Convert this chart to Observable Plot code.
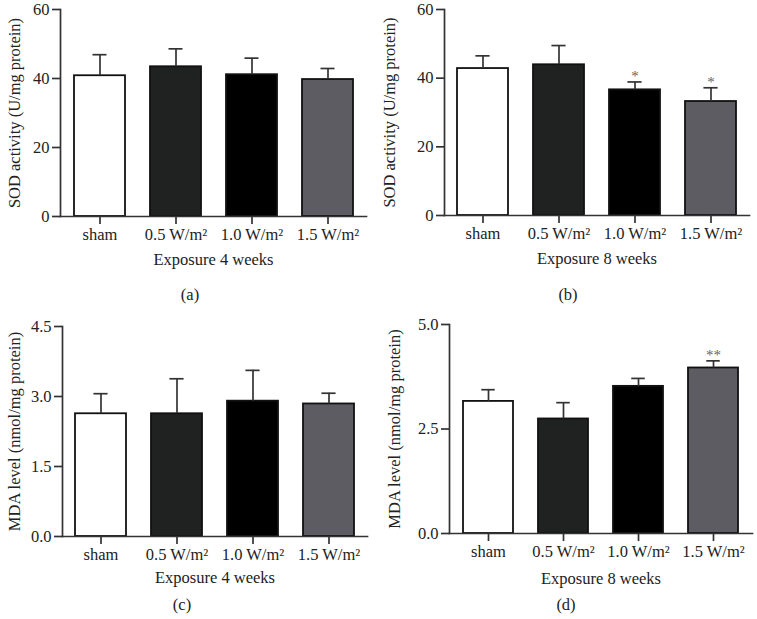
<!DOCTYPE html>
<html><head><meta charset="utf-8">
<script src="https://cdn.jsdelivr.net/npm/d3@7"></script>
<script src="https://cdn.jsdelivr.net/npm/@observablehq/plot@0.6"></script>
<style>
body{margin:0;background:#fff;}
#grid{display:grid;grid-template-columns:378px 379px;grid-template-rows:310px 309px;width:757px;}
.panel{position:relative;overflow:hidden;}
.panel svg{display:block;}
.cap{position:absolute;width:40px;text-align:center;font-family:"Liberation Serif",serif;font-size:16.5px;line-height:20px;color:#222;}
</style></head><body><div id="grid"></div>
<script>
// ---- data ----
const categories = ["sham", "0.5 W/m²", "1.0 W/m²", "1.5 W/m²"];
const sod4Mean = [40.8, 43.4, 41.1, 39.7];
const sod4Sd   = [6.1, 5.2, 4.8, 3.2];
const sod8Mean = [42.8, 43.9, 36.6, 33.2];
const sod8Sd   = [3.7, 5.6, 2.3, 4.0];
const sod8Sig  = ["", "", "*", "*"];
const mda4Mean = [2.63, 2.63, 2.90, 2.84];
const mda4Sd   = [0.43, 0.75, 0.66, 0.23];
const mda8Mean = [3.16, 2.74, 3.52, 3.96];
const mda8Sd   = [0.28, 0.39, 0.19, 0.17];
const mda8Sig  = ["", "", "", "**"];
const sodTicks = [0, 20, 40, 60];
const mda4Ticks = [0, 1.5, 3.0, 4.5];
const mda8Ticks = [0, 2.5, 5.0];
const noSig = ["", "", "", ""];

const barColors = ["#ffffff", "#202221", "#000000", "#5d5c63"];
const FONT = '"Liberation Serif", serif';

function panel(o) {
  const rows = categories.map((c, i) => ({cat: c, mean: o.means[i], top: o.means[i] + o.sds[i], sig: o.sig[i], color: barColors[i]}));
  const step = (o.width - o.ml - o.mr) / 4;
  const bw = step * 2 / 3;
  const capInset = (bw - 14) / 2;
  return Plot.plot({
    width: o.width, height: 280,
    marginLeft: o.ml, marginRight: o.mr, marginTop: o.mt, marginBottom: o.mb,
    style: {fontFamily: FONT, fontSize: "16.5px", background: "white", color: "#222", overflow: "visible"},
    x: {type: "band", domain: categories, paddingInner: 1/3, paddingOuter: 1/6},
    y: {domain: o.yDomain},
    marks: [
      Plot.barY(rows, {x: "cat", y: "mean", fill: "color", stroke: "#111", strokeWidth: 1.8}),
      Plot.ruleX(rows, {x: "cat", y1: "mean", y2: "top", stroke: "#333", strokeWidth: 1.7}),
      Plot.tickY(rows, {x: "cat", y: "top", stroke: "#333", strokeWidth: 1.7, insetLeft: capInset, insetRight: capInset}),
      Plot.text(rows, {x: "cat", y: "top", text: "sig", lineAnchor: "bottom", dy: -1, fontSize: 15, fill: "#666"}),
      Plot.frame({anchor: "left", stroke: "#333", strokeWidth: 1.7}),
      Plot.frame({anchor: "bottom", stroke: "#333", strokeWidth: 1.7}),
      Plot.axisY({ticks: o.yTicks, tickFormat: o.fmt, tickSize: 8, tickPadding: 3, stroke: "#333", strokeWidth: 1.7,
        label: o.yLabel, labelAnchor: "center", labelArrow: "none", labelOffset: o.ylo}),
      Plot.axisX({tickSize: 8, tickPadding: 4, stroke: "#333", strokeWidth: 1.7,
        label: o.xLabel, labelAnchor: "center", labelArrow: "none", labelOffset: o.xlo})
    ]
  });
}

const specs = [
  {means: sod4Mean, sds: sod4Sd, sig: noSig, yDomain: [0, 60], yTicks: sodTicks, fmt: d3.format("d"),
   yLabel: "SOD activity (U/mg protein)", xLabel: "Exposure 4 weeks", width: 378, ml: 60, mr: 12, mt: 9, mb: 64, ylo: 52, xlo: 48,
   cap: "(a)", cx: 190, cy: 295},
  {means: sod8Mean, sds: sod8Sd, sig: sod8Sig, yDomain: [0, 60], yTicks: sodTicks, fmt: d3.format("d"),
   yLabel: "SOD activity (U/mg protein)", xLabel: "Exposure 8 weeks", width: 379, ml: 66, mr: 8, mt: 9, mb: 65, ylo: 61, xlo: 48,
   cap: "(b)", cx: 190, cy: 295},
  {means: mda4Mean, sds: mda4Sd, sig: noSig, yDomain: [0, 4.5], yTicks: mda4Ticks, fmt: d3.format(".1f"),
   yLabel: "MDA level (nmol/mg protein)", xLabel: "Exposure 4 weeks", width: 378, ml: 62, mr: 11, mt: 16, mb: 54, ylo: 54, xlo: 46,
   cap: "(c)", cx: 182, cy: 295},
  {means: mda8Mean, sds: mda8Sd, sig: mda8Sig, yDomain: [0, 5], yTicks: mda8Ticks, fmt: d3.format(".1f"),
   yLabel: "MDA level (nmol/mg protein)", xLabel: "Exposure 8 weeks", width: 379, ml: 71, mr: 5, mt: 14, mb: 57, ylo: 61, xlo: 50,
   cap: "(d)", cx: 188, cy: 295}
];

const grid = document.getElementById("grid");
for (const s of specs) {
  const div = document.createElement("div");
  div.className = "panel";
  div.appendChild(panel(s));
  const cap = document.createElement("div");
  cap.className = "cap";
  cap.textContent = s.cap;
  cap.style.left = (s.cx - 20) + "px";
  cap.style.top = (s.cy - 10) + "px";
  div.appendChild(cap);
  grid.appendChild(div);
}
</script>
</body></html>
